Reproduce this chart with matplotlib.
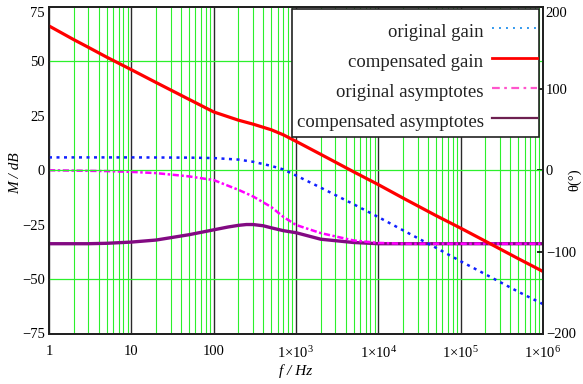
import matplotlib
matplotlib.use('Agg')
import matplotlib.pyplot as plt
from matplotlib.ticker import FixedLocator, FixedFormatter, LogLocator, NullFormatter
from matplotlib.lines import Line2D
from matplotlib.patches import Rectangle

# ---------------- data ----------------
f_comp_gain = [1, 2, 3, 5, 10, 20, 50, 100, 200, 300, 500, 700, 1e3, 2e3, 5e3,
               1e4, 2e4, 5e4, 1e5, 2e5, 5e5, 1e6]
M_comp_gain = [66.3, 60.0, 56.5, 52.0, 46.2, 40.3, 32.6, 26.8, 23.0, 21.2, 18.6,
               16.3, 13.3, 7.3, -0.7, -6.6, -12.8, -20.8, -26.6, -32.6, -40.6, -46.5]

f_orig_gain = [1, 10, 50, 100, 200, 300, 500, 700, 1e3, 2e3, 5e3, 1e4, 2e4, 5e4,
               1e5, 2e5, 5e5, 1e6]
M_orig_gain = [5.9, 5.9, 5.8, 5.6, 4.9, 3.9, 2.0, 0.4, -2.4, -8.0, -15.6, -21.5,
               -27.6, -35.6, -41.8, -47.8, -55.8, -61.5]

f_orig_asym = [1, 5, 10, 20, 50, 100, 200, 300, 500, 700, 1e3, 2e3, 5e3, 1e4,
               2e4, 1e5, 1e6]
th_orig_asym = [0, -1, -2, -3.5, -7.5, -12, -24, -32, -45, -57, -67, -77, -86,
                -89, -90, -90, -90]

f_comp_asym = [1, 3, 5, 10, 20, 50, 100, 150, 200, 250, 300, 400, 500, 700, 1e3,
               2e3, 5e3, 1e4, 1e5, 1e6]
th_comp_asym = [-90, -90, -89.5, -88, -85.5, -79, -73, -69.5, -67.5, -66.5, -66.5,
                -68, -70.5, -74, -76.5, -84.5, -88.5, -90, -90, -90]

x_ticks = [1, 10, 100, 1e3, 1e4, 1e5, 1e6]
x_tick_labels = ['1', '10', '100', r'$\mathregular{1{\times}10^{3}}$',
                 r'$\mathregular{1{\times}10^{4}}$', r'$\mathregular{1{\times}10^{5}}$',
                 r'$\mathregular{1{\times}10^{6}}$']
gain_ticks = [75, 50, 25, 0, -25, -50, -75]
gain_grid = [50, 0, -50]
phase_ticks = [200, 100, 0, -100, -200]
legend_labels = ['original gain', 'compensated gain', 'original asymptotes',
                 'compensated asymptotes']

# ---------------- style ----------------
plt.rcParams['font.family'] = ['Liberation Serif', 'DejaVu Serif']
plt.rcParams['mathtext.fontset'] = 'custom'
plt.rcParams['mathtext.rm'] = 'Liberation Serif'
plt.rcParams['mathtext.it'] = 'Liberation Serif:italic'

GREEN = '#2cf02c'
W, H = 583, 384
fig = plt.figure(figsize=(W / 100, H / 100), dpi=100)
L, R, T, B = 49, 543, 7, 333.5
ax_ph = fig.add_axes([L / W, 1 - B / H, (R - L) / W, (B - T) / H])
ax_g = ax_ph.twinx()
ax_ph.yaxis.tick_right()
ax_ph.yaxis.set_label_position('right')
ax_g.yaxis.tick_left()
ax_g.yaxis.set_label_position('left')

ax_ph.set_xscale('log')
ax_ph.set_xlim(1, 1e6)
ax_ph.set_ylim(-200, 200)
ax_g.set_ylim(-75, 75)

# vertical grid (bottom axes)
ax_ph.set_axisbelow(True)
ax_ph.xaxis.set_major_locator(FixedLocator(x_ticks))
ax_ph.xaxis.set_major_formatter(FixedFormatter(x_tick_labels))
ax_ph.xaxis.set_minor_locator(LogLocator(base=10, subs=range(2, 10), numticks=20))
ax_ph.xaxis.set_minor_formatter(NullFormatter())
ax_ph.grid(which='minor', axis='x', color=GREEN, lw=0.8)
ax_ph.grid(which='major', axis='x', color='#2a2a2a', lw=1.0)

ax_ph.set_yticks(phase_ticks)
ax_ph.set_yticklabels([str(v).replace('-', '\u2212') for v in phase_ticks])
ax_g.set_yticks(gain_ticks)
ax_g.set_yticklabels([str(v).replace('-', '\u2212') for v in gain_ticks])

# horizontal grid from the gain axis
ax_g.set_axisbelow(True)
ax_g.yaxis.set_minor_locator(FixedLocator(gain_grid))
ax_g.yaxis.remove_overlapping_locs = False
ax_g.grid(which='minor', axis='y', color=GREEN, lw=0.9)
ax_g.tick_params(axis='y', which='minor', length=0)

ax_ph.tick_params(axis='x', which='both', length=0, pad=8, labelsize=10.5)
ax_ph.tick_params(axis='y', which='major', direction='in', length=4, width=1.2,
                  pad=2, labelsize=10.5)
ax_g.tick_params(axis='y', which='major', length=0, pad=3, labelsize=10.5)

for a in (ax_ph, ax_g):
    for s in a.spines.values():
        s.set_linewidth(1.3)
        s.set_color('#202020')

# curves
ax_ph.plot(f_comp_asym, th_comp_asym, color='#820a82', lw=2.4)
ax_ph.plot(f_orig_asym, th_orig_asym, color='#ff00ff', lw=1.8,
           ls=(0, (2.5, 1, 1, 1)))
ax_g.plot(f_orig_gain, M_orig_gain, color='#1020ff', lw=1.8, ls=(0, (1.2, 1.8)))
ax_g.plot(f_comp_gain, M_comp_gain, color='#ff0000', lw=2.3)

# labels
ax_g.set_ylabel('M / dB', style='italic', fontsize=11)
ax_g.yaxis.set_label_coords(-0.055, 0.49)
ax_ph.set_ylabel('θ(°)', fontsize=10.5)
ax_ph.yaxis.set_label_coords(1.05, 0.47)
ax_ph.set_xlabel('f / Hz', style='italic', fontsize=11, labelpad=3)

# keep the outermost tick labels inside the figure like the reference
fig.canvas.draw()
ax_g.get_yticklabels()[0].set_va('top')
ax_ph.get_yticklabels()[0].set_va('top')

# legend: frame drawn as a box, entries placed inside it
frame = Rectangle((292 / W, 1 - 137 / H), 247 / W, 128 / H, transform=fig.transFigure,
                  facecolor='white', edgecolor='#222222', lw=1.2, zorder=4.9,
                  clip_on=False)
ax_g.add_patch(frame)
handles = [
    Line2D([], [], color='#3399ee', lw=1.4, ls=(0, (1, 2.6))),
    Line2D([], [], color='#ff0000', lw=2.0),
    Line2D([], [], color='#ff55cc', lw=1.6, ls=(0, (3.5, 2, 1.2, 2))),
    Line2D([], [], color='#6d2050', lw=1.6),
]
leg = ax_g.legend(handles, legend_labels, loc='upper right',
                  bbox_to_anchor=(537 / W, 1 - 19 / H), bbox_transform=fig.transFigure,
                  borderaxespad=0, markerfirst=False, fontsize=13.5,
                  handlelength=2.4, handletextpad=0.45, handleheight=1.6,
                  labelspacing=0.32, borderpad=0.0, frameon=False)
for t in leg.get_texts():
    t.set_color('#222222')

fig.savefig('out.png', dpi=100)
